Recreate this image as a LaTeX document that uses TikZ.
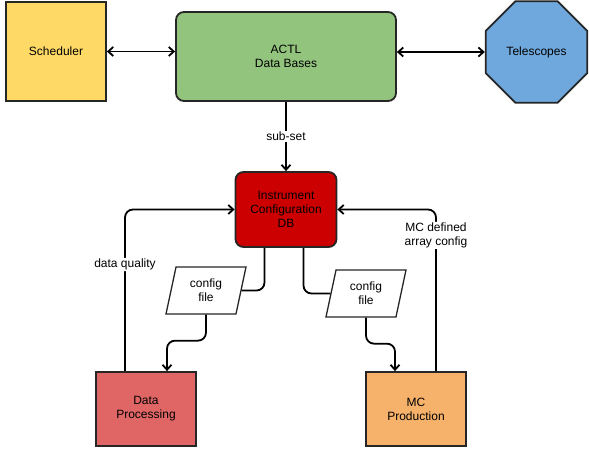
\documentclass[tikz,border=0pt]{standalone}
\usepackage{fontspec}
\setmainfont{Liberation Sans}
\usetikzlibrary{shapes.geometric,arrows.meta}
\definecolor{schedyellow}{HTML}{FFD966}
\definecolor{actlgreen}{HTML}{93C47D}
\definecolor{telblue}{HTML}{6FA8DC}
\definecolor{instred}{HTML}{CC0000}
\definecolor{dpred}{HTML}{E06666}
\definecolor{mcorange}{HTML}{F6B26B}
\begin{document}
\begin{tikzpicture}[x=1pt,y=-1pt,
    >={Straight Barb[length=5pt,width=9pt]},
    every node/.style={font=\fontsize{12}{14}\selectfont,align=center},
    box/.style={draw=black!85,line width=1.8pt,minimum width=100pt,minimum height=74pt,inner sep=2pt},
    dbbox/.style={box,rounded corners=8pt},
    cfgbox/.style={draw=black!85,fill=white,line width=1.3pt,trapezium,trapezium left angle=68,
        trapezium right angle=112,trapezium stretches body,minimum width=80pt,minimum height=47pt,inner sep=1pt},
    link/.style={draw=black,line width=1.8pt,rounded corners=8pt},
    lbl/.style={fill=white,inner sep=1pt}]
\useasboundingbox (0,0) rectangle (589,457);

% top row
\node[box,fill=schedyellow,minimum height=99pt] (sched) at (56,51.5) {Scheduler};
\node[dbbox,fill=actlgreen,minimum width=220pt,minimum height=89pt] (actl) at (286,56.5) {ACTL\\Data Bases};
\node[draw=black!85,line width=1.8pt,fill=telblue,regular polygon,regular polygon sides=8,
    minimum size=110pt,inner sep=0pt] (tel) at (536.5,52) {Telescopes};

% middle
\node[dbbox,fill=instred,minimum width=101pt,minimum height=75pt] (inst) at (286,209.5) {Instrument\\Configuration\\DB};
\node[cfgbox] (cfg1) at (206,290.5) {config\\file};
\node[cfgbox] (cfg2) at (366,293.5) {config\\file};

% bottom row
\node[box,fill=dpred] (dp) at (146,409) {Data\\Processing};
\node[box,fill=mcorange] (mc) at (416,409) {MC\\Production};

\draw[link,<->] (sched.east) -- (sched.east -| actl.west);
\draw[link,<->] (actl.east |- tel) -- (tel.west);
\draw[link,->] (actl.south) -- (inst.north) node[midway,lbl]{sub-set};

\draw[link,->] ([xshift=-21pt]dp.north) |- (inst.west) node[pos=0.33,lbl]{data quality};
\draw[link,->] ([xshift=20pt]mc.north) |- (inst.east) node[pos=0.42,lbl]{MC defined\\array config};

\draw[link] ([xshift=-21.5pt]inst.south) |- (cfg1.east);
\draw[link] ([xshift=17.5pt]inst.south) |- (cfg2.west);
\draw[link,->] (cfg1.south -| cfg1.center) -- ++(0,26) -| ([xshift=21pt]dp.north);
\draw[link,->] (cfg2.south -| cfg2.center) -- ++(0,26) -| ([xshift=-21pt]mc.north);
\end{tikzpicture}
\end{document}
